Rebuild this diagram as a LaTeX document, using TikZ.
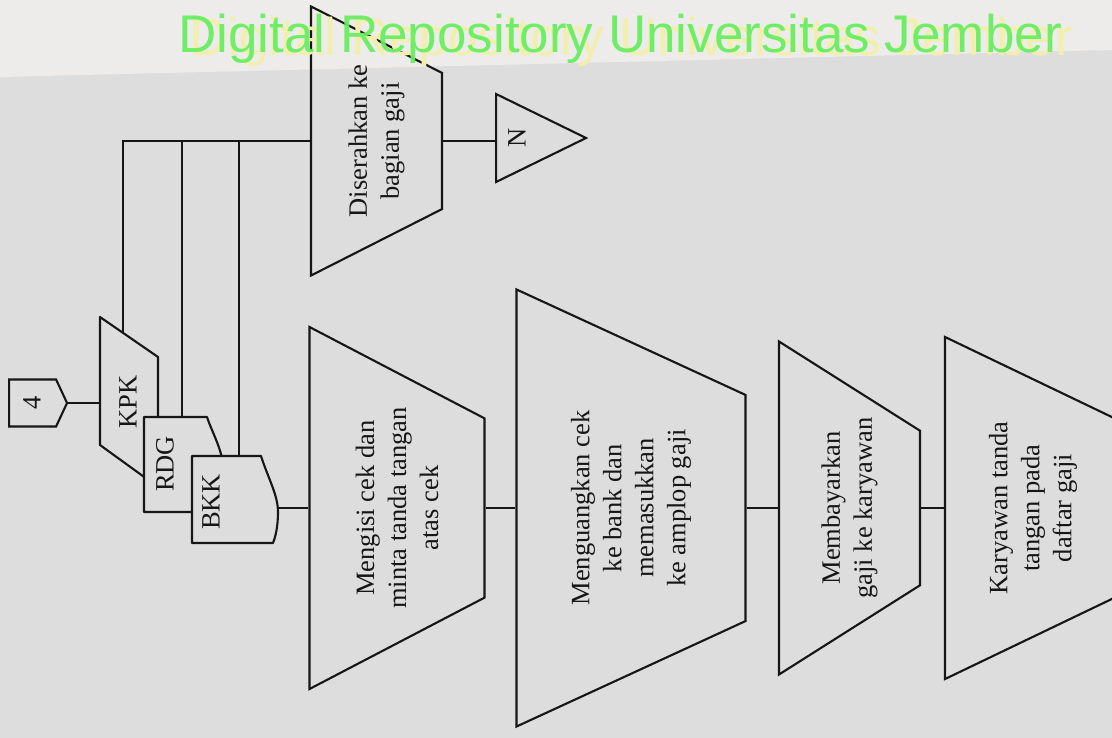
\documentclass[tikz,border=0pt]{standalone}
\usepackage{fontspec}
\setmainfont{Liberation Serif}
\newfontfamily\wmfont{Liberation Sans}
\usetikzlibrary{shapes.geometric,shapes.symbols}

\definecolor{paper}{HTML}{DEDDDD}
\definecolor{strip}{HTML}{EDECEA}
\definecolor{ink}{HTML}{161616}
\definecolor{wmgreen}{HTML}{66EE5E}
\definecolor{wmyellow}{HTML}{F2EFAE}

\tikzset{
  line/.style={draw=ink, line width=2.1pt},
  txt/.style={rotate=90, align=center, text=ink, inner sep=0pt,
    font=\fontsize{26.5}{32}\selectfont},
  proc/.style={trapezium, shape border rotate=180, rotate=90,
    trapezium stretches=true, line, inner sep=1pt},
  doc/.style={line, fill=paper, line join=round},
  wm/.style={font=\wmfont\fontsize{53}{60}\selectfont, anchor=base west, inner sep=0pt},
}

\begin{document}
\begin{tikzpicture}[x=1pt, y=-1pt]
\useasboundingbox (0,0) rectangle (1112,738);
\clip (0,0) rectangle (1112,738);
% paper
\fill[paper] (0,0) rectangle (1112,738);
\fill[strip] (0,0) -- (1112,0) -- (1112,50) -- (0,77) -- cycle;

% off-page connector
\node[signal, signal to=east, signal pointer angle=130, line,
  minimum width=58, minimum height=47, inner sep=1pt, anchor=west] (four) at (8,403) {};
\node[txt] (four-t) at ([xshift=24pt]four.west) {4};

% documents
\draw[doc] (100,317) -- (158,357) -- (158,487) -- (100,445) -- cycle;
\node[txt] (kpk) at (128,402) {KPK};
\draw[doc] (144,417) -- (207,417) .. controls (213,435) and (224,452) .. (224,475)
  .. controls (224,495) and (222,505) .. (220,512) -- (144,512) -- cycle;
\node[txt] (rdg) at (165,464) {RDG};
\draw[doc] (192,456) -- (261,456) .. controls (268,478) and (278,495) .. (278,512)
  .. controls (278,528) and (275,538) .. (273,543) -- (192,543) -- cycle;
\node[txt] (bkk) at (211,502) {BKK};

% processes
\node[proc, minimum width=269, minimum height=131, trapezium angle=64] (dis) at (376.5,141) {};
\node[txt] (dis-t) at (dis) {Diserahkan ke\\bagian gaji};
\node[isosceles triangle, isosceles triangle stretches, line, inner sep=1pt,
  minimum width=88, minimum height=90, anchor=west] (nn) at (495,138) {};
\node[txt] (nn-t) at ([xshift=22pt]nn.west) {N};

\node[proc, minimum width=362, minimum height=175, trapezium angle=63] (isi) at (397,508) {};
\node[txt] (isi-t) at (isi) {Mengisi cek dan\\minta tanda tangan\\atas cek};
\node[proc, minimum width=437, minimum height=229, trapezium angle=65] (uang) at (631,508) {};
\node[txt] (uang-t) at (uang) {Menguangkan cek\\ke bank dan\\memasukkan\\ke amplop gaji};
\node[proc, minimum width=333, minimum height=141, trapezium angle=60] (bayar) at (849.5,508) {};
\node[txt] (bayar-t) at (bayar) {Membayarkan\\gaji ke karyawan};
\node[proc, minimum width=342, minimum height=176, trapezium angle=64] (ttd) at (1033,508) {};
\node[txt] (ttd-t) at (ttd) {Karyawan tanda\\tangan pada\\daftar gaji};

% connectors
\coordinate (kpk-in) at (100,403);
\coordinate (kpk-top) at (123,333);
\coordinate (rdg-top) at (182,417);
\coordinate (bkk-top) at (239,456);
\coordinate (bkk-out) at (278,508);
\draw[line] (four.east) -- (kpk-in);
\draw[line] (kpk-top) |- (dis.north);
\draw[line] (rdg-top) -- (rdg-top |- dis.north);
\draw[line] (bkk-top) -- (bkk-top |- dis.north);
\draw[line] (dis.south) -- (nn.west |- dis.south);
\draw[line] (bkk-out) -- (isi.north);
\draw[line] (isi.south) -- (uang.north);
\draw[line] (uang.south) -- (bayar.north);
\draw[line] (bayar.south) -- (ttd.north);

% watermark
\node[wm, text=wmyellow] (wm-shadow) at (189,56) {Digital Repository Universitas Jember};
\node[wm, text=wmgreen, opacity=0.92] (wm-text) at (178,53) {Digital Repository Universitas Jember};
\end{tikzpicture}
\end{document}
